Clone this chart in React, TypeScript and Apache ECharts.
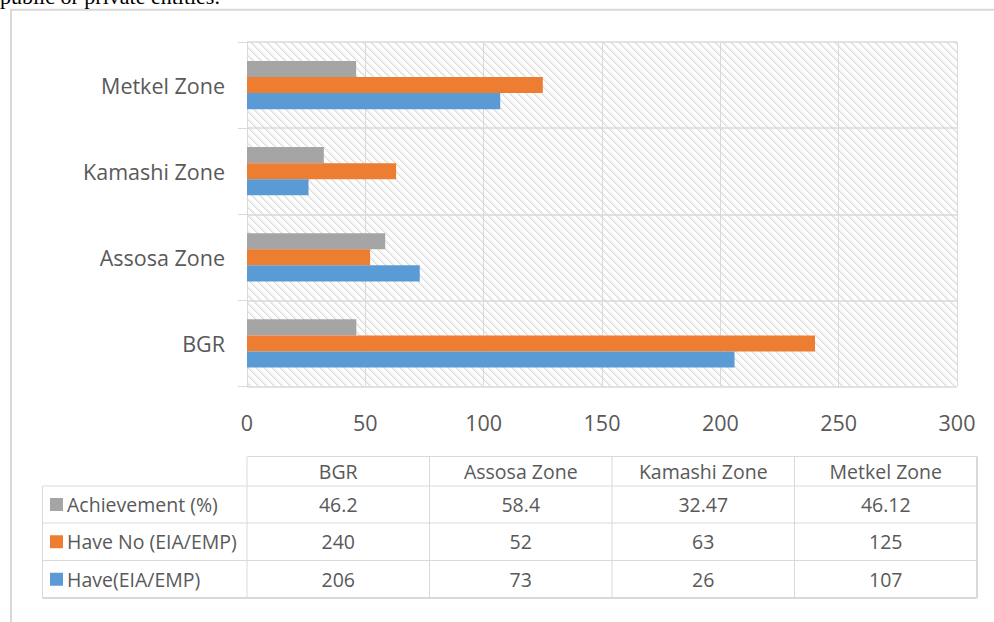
import React, { useEffect, useRef } from "react";
import * as echarts from "echarts";

// ---- data ----
const categories = ["BGR", "Assosa Zone", "Kamashi Zone", "Metkel Zone"];
const haveValues = [206, 73, 26, 107];
const haveNoValues = [240, 52, 63, 125];
const achievementValues = [46.2, 58.4, 32.47, 46.12];
const seriesNames = ["Have(EIA/EMP)", "Have No (EIA/EMP)", "Achievement (%)"];
const seriesColors = ["#5b9bd5", "#ed7d31", "#a5a5a5"];
const xMin = 0;
const xMax = 300;
const xInterval = 50;
const captionText = "public or private entities.";

// table rows top to bottom
const tableRows = [
  { name: seriesNames[2], color: seriesColors[2], values: achievementValues },
  { name: seriesNames[1], color: seriesColors[1], values: haveNoValues },
  { name: seriesNames[0], color: seriesColors[0], values: haveValues },
];

const TEXT = "#595959";
const LINE = "#d9d9d9";
const FONT = "'Open Sans', 'DejaVu Sans', sans-serif";

function makePattern() {
  const n = 8;
  const c = document.createElement("canvas");
  c.width = n;
  c.height = n;
  const ctx = c.getContext("2d")!;
  ctx.fillStyle = "#ffffff";
  ctx.fillRect(0, 0, n, n);
  for (let y = 0; y < n; y++) {
    for (let x = 0; x < n; x++) {
      const d = (((x - y) % n) + n) % n;
      if (d === 0 || (d === 1 && (x + y) % 2 === 0)) {
        ctx.fillStyle = "#dadada";
        ctx.fillRect(x, y, 1, 1);
      } else if (d === 1 || d === 2) {
        ctx.fillStyle = "#f0f0f0";
        ctx.fillRect(x, y, 1, 1);
      }
    }
  }
  return { image: c.toDataURL(), repeat: "repeat", imageWidth: n, imageHeight: n } as any;
}

export default function App() {
  const ref = useRef<HTMLDivElement>(null);
  useEffect(() => {
    if (!ref.current) return;
    const chart = echarts.init(ref.current, null, { renderer: "svg" });

    const gridLeft = 247;
    const gridRight = 957;
    const tLeft = 42.5;
    const tColStart = 247;
    const tRight = 977;
    const tHeaderTop = 456.5;
    const rowLines = [486, 523, 560.5, 598];
    const colW = (tRight - tColStart) / categories.length;
    const TFS = 19.5;

    const g: any[] = [];
    // outer frame
    g.push({
      type: "rect",
      shape: { x: 11, y: 9.7, width: 1000, height: 700 },
      style: { fill: "none", stroke: LINE, lineWidth: 2 },
      silent: true,
    });
    // caption cut at top (as in the reference)
    g.push({
      type: "text",
      x: 0,
      y: 7,
      style: {
        text: captionText,
        fontSize: 22,
        fontFamily: "'Liberation Serif', serif",
        fill: "#000",
        align: "left",
        verticalAlign: "bottom",
      },
    });
    const line = (x1: number, y1: number, x2: number, y2: number, w = 1) =>
      g.push({
        type: "line",
        shape: { x1, y1, x2, y2 },
        style: { stroke: LINE, lineWidth: w },
        silent: true,
      });
    // table horizontal lines
    line(tColStart, tHeaderTop, tRight, tHeaderTop);
    rowLines.forEach((y, i) => line(tLeft, y, tRight, y, i === rowLines.length - 1 ? 2 : 1));
    // vertical lines
    line(tLeft, rowLines[0], tLeft, rowLines[rowLines.length - 1]);
    for (let i = 0; i <= categories.length; i++) {
      const x = tColStart + i * colW;
      line(x, tHeaderTop, x, rowLines[rowLines.length - 1], i === categories.length ? 2 : 1);
    }
    // header texts
    categories.forEach((c, i) => {
      g.push({
        type: "text",
        x: tColStart + (i + 0.5) * colW,
        y: (tHeaderTop + rowLines[0]) / 2,
        style: { text: c, fontSize: TFS, fontFamily: FONT, fill: TEXT, align: "center", verticalAlign: "middle" },
      });
    });
    tableRows.forEach((r, ri) => {
      const cy = (rowLines[ri] + rowLines[ri + 1]) / 2;
      g.push({
        type: "rect",
        shape: { x: 50, y: cy - 6.5, width: 13, height: 13 },
        style: { fill: r.color },
      });
      g.push({
        type: "text",
        x: 67,
        y: cy,
        style: { text: r.name, fontSize: TFS, fontFamily: FONT, fill: TEXT, align: "left", verticalAlign: "middle" },
      });
      r.values.forEach((v, ci) => {
        g.push({
          type: "text",
          x: tColStart + (ci + 0.5) * colW,
          y: cy,
          style: { text: String(v), fontSize: TFS, fontFamily: FONT, fill: TEXT, align: "center", verticalAlign: "middle" },
        });
      });
    });

    // in a horizontal ECharts bar chart the first series sits at the top of each band
    const order = [2, 1, 0];
    const seriesData = [haveValues, haveNoValues, achievementValues];

    chart.setOption({
      animation: false,
      backgroundColor: "#ffffff",
      grid: {
        left: gridLeft,
        right: 994 - gridRight,
        top: 42,
        bottom: 622 - 386.5,
        show: true,
        borderWidth: 0,
        backgroundColor: makePattern(),
      },
      xAxis: {
        type: "value",
        min: xMin,
        max: xMax,
        interval: xInterval,
        axisLine: { show: false },
        axisTick: { show: false },
        splitLine: { show: true, lineStyle: { color: LINE, width: 1 } },
        axisLabel: { color: TEXT, fontSize: 21.5, fontFamily: FONT, margin: 25 },
      },
      yAxis: {
        type: "category",
        data: categories,
        axisLine: { show: true, lineStyle: { color: LINE } },
        axisTick: { show: true, length: 9, lineStyle: { color: LINE } },
        splitLine: { show: true, lineStyle: { color: LINE, width: 1.5 } },
        axisLabel: { color: TEXT, fontSize: 21.5, fontFamily: FONT, margin: 22 },
      },
      series: order.map((i) => ({
        type: "bar",
        name: seriesNames[i],
        data: seriesData[i],
        barGap: "0%",
        barCategoryGap: "44%",
        itemStyle: { color: seriesColors[i] },
      })),
      graphic: { elements: g },
    });
    return () => chart.dispose();
  }, []);
  return (
    <div
      ref={ref}
      style={{ position: "absolute", left: 0, top: 0, width: 994, height: 622 }}
    />
  );
}
